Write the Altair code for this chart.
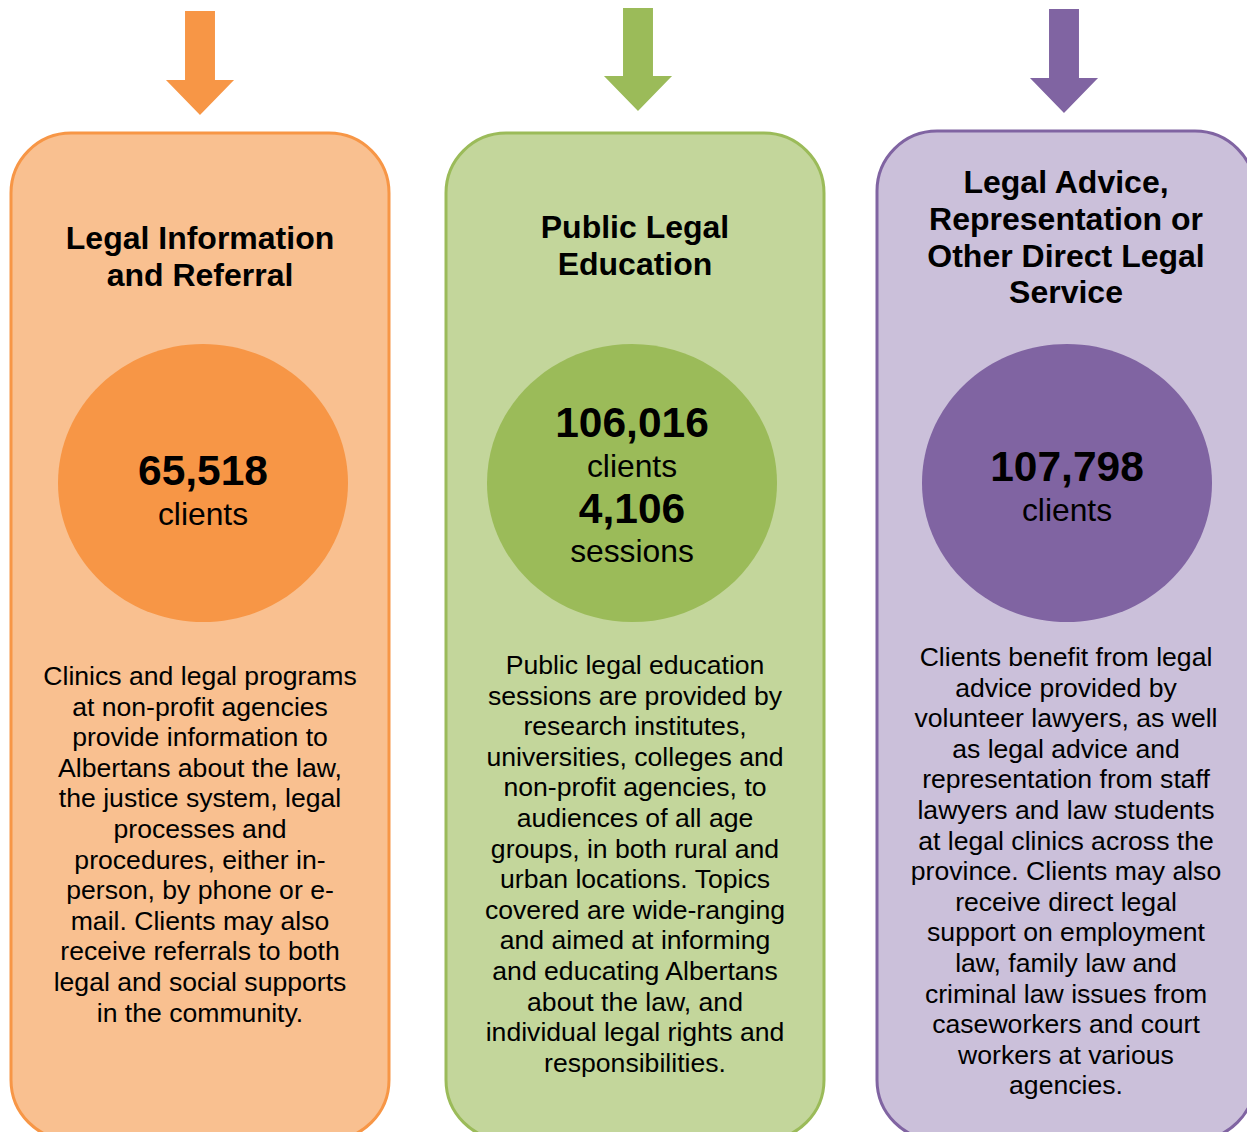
import altair as alt
import pandas as pd

# ---------------- content ----------------
titles = [
    ["Legal Information", "and Referral"],
    ["Public Legal", "Education"],
    ["Legal Advice,", "Representation or", "Other Direct Legal", "Service"],
]
figures = [
    ["65,518"],
    ["106,016", "4,106"],
    ["107,798"],
]
figure_units = [
    ["clients"],
    ["clients", "sessions"],
    ["clients"],
]
descriptions = [
    [
        "Clinics and legal programs",
        "at non-profit agencies",
        "provide information to",
        "Albertans about the law,",
        "the justice system, legal",
        "processes and",
        "procedures, either in-",
        "person, by phone or e-",
        "mail. Clients may also",
        "receive referrals to both",
        "legal and social supports",
        "in the community.",
    ],
    [
        "Public legal education",
        "sessions are provided by",
        "research institutes,",
        "universities, colleges and",
        "non-profit agencies, to",
        "audiences of all age",
        "groups, in both rural and",
        "urban locations. Topics",
        "covered are wide-ranging",
        "and aimed at informing",
        "and educating Albertans",
        "about the law, and",
        "individual legal rights and",
        "responsibilities.",
    ],
    [
        "Clients benefit from legal",
        "advice provided by",
        "volunteer lawyers, as well",
        "as legal advice and",
        "representation from staff",
        "lawyers and law students",
        "at legal clinics across the",
        "province. Clients may also",
        "receive direct legal",
        "support on employment",
        "law, family law and",
        "criminal law issues from",
        "caseworkers and court",
        "workers at various",
        "agencies.",
    ],
]
strong_colors = ["#F79646", "#9BBB59", "#8064A2"]
light_colors = ["#F9C090", "#C3D69B", "#CBC0DA"]

# ---------------- layout (page pixels) ----------------
MARGIN = 8
W, H = 1239, 1124          # svg size that fits the 1255x1142 page with its margins
X_MAX, Y_MAX = MARGIN + W, MARGIN + H
box_center = [200, 635, 1066]
box_half = 189
box_top = [133, 133, 131]
box_bottom = 1140
arrow_x = [200, 638, 1064]
arrow_top = [11, 7, 9]
arrow_len = 104
circle_x = [203, 632, 1067]
circle_y = 483
circle_w = 290
title_first = [239, 228, 183]
title_step = 36.8
fig_first = [472, 424, 468]
fig_step = 42.8
body_first = [677, 666, 658]
body_step = 30.6
FONT = "Liberation Sans, Arial, Helvetica, sans-serif"

boxes = pd.DataFrame({
    "x": [c - box_half for c in box_center],
    "x2": [c + box_half for c in box_center],
    "y": box_top,
    "y2": [box_bottom] * 3,
    "fill": light_colors,
    "stroke": strong_colors,
})
arrows = pd.DataFrame({
    "x": arrow_x,
    "y": [t + arrow_len / 2 for t in arrow_top],
    "fill": strong_colors,
})
circles = pd.DataFrame({
    "x": circle_x,
    "y": [circle_y] * 3,
    "fill": strong_colors,
})

title_rows, fig_rows, unit_rows, body_rows = [], [], [], []
for p in range(3):
    for i, line in enumerate(titles[p]):
        title_rows.append({"x": box_center[p], "y": title_first[p] + i * title_step, "t": line})
    for j, (num, unit) in enumerate(zip(figures[p], figure_units[p])):
        fig_rows.append({"x": circle_x[p], "y": fig_first[p] + 2 * j * fig_step, "t": num})
        unit_rows.append({"x": circle_x[p], "y": fig_first[p] + (2 * j + 1) * fig_step, "t": unit})
    for i, line in enumerate(descriptions[p]):
        body_rows.append({"x": box_center[p], "y": body_first[p] + i * body_step, "t": line})

xs = alt.Scale(domain=[MARGIN, X_MAX], range=[0, W], nice=False, zero=False)
ys = alt.Scale(domain=[MARGIN, Y_MAX], range=[0, H], nice=False, zero=False)
X = alt.X("x:Q", scale=xs, axis=None)
Y = alt.Y("y:Q", scale=ys, axis=None)

box_layer = alt.Chart(boxes).mark_rect(cornerRadius=60, strokeWidth=3).encode(
    x=X, x2="x2:Q", y=Y, y2="y2:Q",
    fill=alt.Fill("fill:N", scale=None),
    stroke=alt.Stroke("stroke:N", scale=None),
)

arrow_path = "M-0.288,-1 L0.288,-1 L0.288,0.327 L0.654,0.327 L0,1 L-0.654,0.327 L-0.288,0.327 Z"
arrow_layer = alt.Chart(arrows).mark_point(
    shape=arrow_path, filled=True, size=arrow_len ** 2, opacity=1, strokeWidth=0
).encode(x=X, y=Y, fill=alt.Fill("fill:N", scale=None))

ellipse_path = "M-1,0 A1,0.959 0 1,1 1,0 A1,0.959 0 1,1 -1,0 Z"
circle_layer = alt.Chart(circles).mark_point(
    shape=ellipse_path, filled=True, size=circle_w ** 2, opacity=1, strokeWidth=0
).encode(x=X, y=Y, fill=alt.Fill("fill:N", scale=None))

def text_layer(rows, size, weight):
    return alt.Chart(pd.DataFrame(rows)).mark_text(
        font=FONT, fontSize=size, fontWeight=weight, color="#000000",
        align="center", baseline="middle"
    ).encode(x=X, y=Y, text="t:N")

chart = alt.layer(
    box_layer,
    arrow_layer,
    circle_layer,
    text_layer(title_rows, 32, "bold"),
    text_layer(fig_rows, 42.5, "bold"),
    text_layer(unit_rows, 31.8, "normal"),
    text_layer(body_rows, 26.6, "normal"),
).properties(
    width=W, height=H, padding=0,
    autosize=alt.AutoSizeParams(type="none"),
    background="white",
).configure_view(stroke=None)

chart.save("out.html", embed_options={"renderer": "svg", "actions": False})
